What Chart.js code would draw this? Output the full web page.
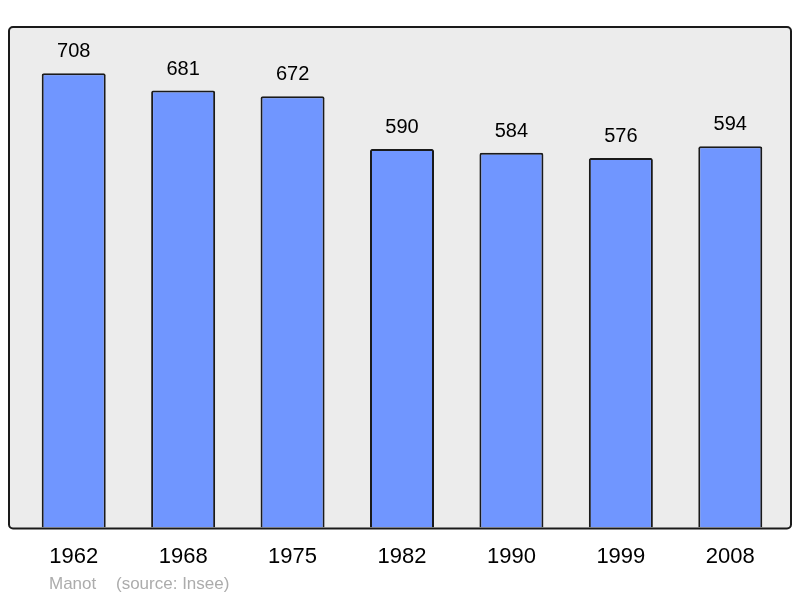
<!DOCTYPE html>
<html>
<head>
<meta charset="utf-8">
<script src="https://cdn.jsdelivr.net/npm/chart.js@4/dist/chart.umd.min.js"></script>
<style>
html,body{margin:0;padding:0;background:#fff;}
#wrap{width:800px;height:598px;position:relative;}
</style>
</head>
<body>
<div id="wrap"><canvas id="c" width="800" height="598"></canvas></div>
<script>
const years = ['1962','1968','1975','1982','1990','1999','2008'];
const population = [708, 681, 672, 590, 584, 576, 594];
const yMax = 780;
const footerName = 'Manot';
const footerSource = '(source: Insee)';

const FONT = '"Liberation Sans", Arial, sans-serif';

const framePlugin = {
  id: 'frame',
  beforeDatasetsDraw(chart) {
    const ctx = chart.ctx;
    ctx.save();
    ctx.beginPath();
    ctx.roundRect(9, 27, 782, 501.5, 4);
    ctx.fillStyle = '#ececec';
    ctx.fill();
    ctx.restore();
  },
  afterDatasetsDraw(chart) {
    const ctx = chart.ctx;
    ctx.save();
    ctx.beginPath();
    ctx.roundRect(9, 27, 782, 501.5, 4);
    ctx.lineWidth = 2;
    ctx.strokeStyle = '#1a1a1a';
    ctx.stroke();
    // value labels
    const meta = chart.getDatasetMeta(0);
    ctx.fillStyle = '#000';
    ctx.font = '20px ' + FONT;
    ctx.textAlign = 'center';
    ctx.textBaseline = 'middle';
    meta.data.forEach((bar, i) => {
      ctx.fillText(String(population[i]), bar.x, bar.y - 21.5);
    });
    // footer
    ctx.fillStyle = '#acacac';
    ctx.font = '17px ' + FONT;
    ctx.textAlign = 'left';
    ctx.fillText(footerName, 49, 584);
    ctx.fillText(footerSource, 116, 584);
    ctx.restore();
  }
};

new Chart(document.getElementById('c'), {
  type: 'bar',
  data: {
    labels: years,
    datasets: [{
      data: population,
      backgroundColor: '#7096ff',
      borderColor: '#1a1a1a',
      borderWidth: 2,
      borderRadius: 2,
      borderSkipped: 'bottom',
      categoryPercentage: 1,
      barPercentage: 0.585
    }]
  },
  options: {
    responsive: false,
    animation: false,
    devicePixelRatio: 1,
    layout: { padding: { top: 27, bottom: 12, left: 19, right: 15 } },
    plugins: { legend: { display: false }, tooltip: { enabled: false } },
    scales: {
      x: {
        offset: true,
        grid: { display: false, drawTicks: false },
        border: { display: false },
        ticks: { color: '#000', font: { family: FONT, size: 22 }, padding: 16 }
      },
      y: {
        display: false,
        min: 0,
        max: yMax
      }
    }
  },
  plugins: [framePlugin]
});
</script>
</body>
</html>
